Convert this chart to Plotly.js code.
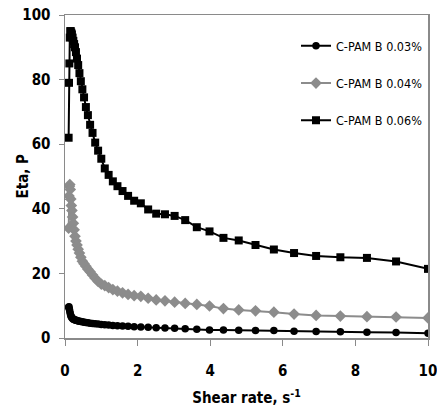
<!DOCTYPE html>
<html>
<head>
<meta charset="utf-8">
<script src="https://cdn.plot.ly/plotly-3.0.1.min.js"></script>
<style>
  html, body { margin: 0; padding: 0; background: #ffffff; }
  #chart { width: 437px; height: 417px; }
</style>
</head>
<body>
<div id="chart"></div>
<script>
// Shear rate sweep, s^-1 (log-spaced, 25 points per decade)
const shearRate = [
  0.1, 0.1096, 0.1202, 0.1318, 0.1445, 0.1585, 0.1738, 0.1905, 0.2089, 0.2291,
  0.2512, 0.2754, 0.302, 0.3311, 0.3631, 0.3981, 0.4365, 0.4786, 0.5248, 0.5754,
  0.631, 0.6918, 0.7586, 0.8318, 0.912, 1.0, 1.096, 1.202, 1.318, 1.445,
  1.585, 1.738, 1.905, 2.089, 2.291, 2.512, 2.754, 3.02, 3.311, 3.631,
  3.981, 4.365, 4.786, 5.248, 5.754, 6.31, 6.918, 7.586, 8.318, 9.12, 10.0
];

// Viscosity (Eta, P) for each C-PAM B concentration
const eta003 = [
  9.5, 9.7, 9.0, 8.3, 7.6, 7.0, 6.6, 6.3, 6.0, 5.8,
  5.7, 5.6, 5.5, 5.4, 5.3, 5.2, 5.1, 5.0, 4.9, 4.8,
  4.7, 4.6, 4.5, 4.4, 4.3, 4.2, 4.1, 4.0, 3.9, 3.8,
  3.7, 3.6, 3.5, 3.4, 3.3, 3.2, 3.1, 3.0, 2.9, 2.7,
  2.5, 2.5, 2.4, 2.3, 2.3, 2.1, 2.0, 1.9, 1.8, 1.7, 1.5
];
const eta004 = [
  34, 44, 47, 47.5, 46, 43, 41, 39.5, 37.5, 35.5,
  33.5, 31.5, 30, 28.8, 27.5, 26.3, 25, 23.8, 23, 22.2,
  21.3, 20.5, 19.5, 18.5, 17.5, 16.7, 16.2, 15.6, 15.0, 14.5,
  14.0, 13.5, 13.1, 12.9, 12.3, 11.8, 11.5, 11.1, 10.7, 10.4,
  9.9, 9.1, 8.7, 8.4, 8.0, 7.4, 7.0, 6.8, 6.6, 6.5, 6.2
];
const eta006 = [
  62, 79, 85, 93, 95, 95, 94.5, 94, 93, 92,
  91, 90, 88.5, 86.5, 84.5, 82, 79.5, 77, 74.5, 71.5,
  69, 66, 63.5, 60.5, 58, 55.5, 52.5, 50.5, 48.5, 47,
  45.5, 44, 42.5, 41.7, 39.8, 38.5, 38.3, 37.8, 36.5, 34.3,
  33, 31, 30.2, 28.8, 27.4, 26.3, 25.4, 25.0, 24.8, 23.7, 21.4
];

const seriesNames = ['C-PAM B 0.03%', 'C-PAM B 0.04%', 'C-PAM B 0.06%'];
const xTitle = 'Shear rate, s<sup>-1</sup>';
const yTitle = 'Eta, P';

const narrow = '"DejaVu Sans Condensed", "Liberation Sans Narrow", "Liberation Sans", sans-serif';
const axisGrey = '#8a8a8a';
const boldFont = { family: narrow, size: 15, color: '#000000', weight: 'bold' };

const traces = [
  {
    x: shearRate, y: eta003, name: seriesNames[0], legendgroup: 'a',
    mode: 'lines+markers', type: 'scatter',
    line: { color: '#000000', width: 2 },
    marker: { symbol: 'circle', size: 7.5, color: '#000000' }
  },
  {
    x: shearRate, y: eta004, name: seriesNames[1], legendgroup: 'b',
    mode: 'lines+markers', type: 'scatter',
    line: { color: '#8c8c8c', width: 2 },
    marker: { symbol: 'diamond', size: 9, color: '#8c8c8c' }
  },
  {
    x: shearRate, y: eta006, name: seriesNames[2], legendgroup: 'c',
    mode: 'lines+markers', type: 'scatter',
    line: { color: '#000000', width: 2 },
    marker: { symbol: 'square', size: 8, color: '#000000' }
  }
];

const layout = {
  width: 437, height: 417,
  margin: { l: 65, r: 9, t: 15, b: 79 },
  paper_bgcolor: '#ffffff',
  plot_bgcolor: '#ffffff',
  font: { family: narrow, color: '#000000' },
  showlegend: true,
  legend: {
    x: 1.0, xanchor: 'right', y: 0.95, yanchor: 'top',
    font: { family: narrow, size: 12.5, color: '#000000' },
    tracegroupgap: 18,
    itemwidth: 30,
    bgcolor: 'rgba(0,0,0,0)'
  },
  xaxis: {
    range: [0, 10], dtick: 2, tick0: 0,
    showgrid: false, zeroline: false,
    showline: true, linecolor: axisGrey, linewidth: 1.5, mirror: true,
    ticks: 'outside', ticklen: 6, tickcolor: axisGrey, tickwidth: 1,
    ticklabelstandoff: 12,
    ticklabeloverflow: 'allow',
    tickfont: boldFont,
    title: { text: xTitle, font: boldFont, standoff: 14 }
  },
  yaxis: {
    range: [0, 100], dtick: 20, tick0: 0,
    showgrid: false, zeroline: false,
    showline: true, linecolor: axisGrey, linewidth: 1.5, mirror: true,
    ticks: 'outside', ticklen: 5, tickcolor: axisGrey, tickwidth: 1,
    ticklabelstandoff: 5,
    tickfont: boldFont
  },
  // vertical axis caption, set just left of the tick labels
  annotations: [{
    text: yTitle, xref: 'paper', yref: 'paper',
    x: 0, y: 0.5, xshift: -43, xanchor: 'center', yanchor: 'middle',
    textangle: -90, showarrow: false, font: boldFont
  }]
};

Plotly.newPlot('chart', traces, layout, { displayModeBar: false, staticPlot: true });
</script>
</body>
</html>
